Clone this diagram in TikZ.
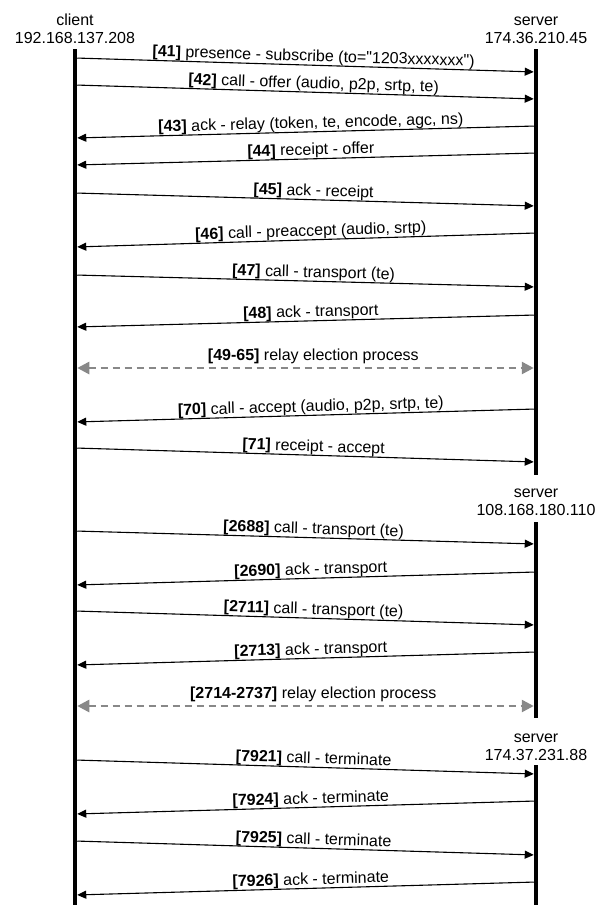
\documentclass[tikz,border=0pt]{standalone}
\usepackage{fontspec}
\setmainfont{Liberation Sans}[Ligatures=TeXOff]
\usepackage{xcolor}
\usetikzlibrary{arrows.meta}

\definecolor{electgray}{HTML}{888888}

\begin{document}
\begin{tikzpicture}[
    x=1pt, y=-1pt,
    font=\fontsize{16}{18}\selectfont,
    head/.style={align=center, inner sep=0pt},
    life/.style={line width=4.5pt},
    msg/.style={-{Triangle[length=9pt,width=8pt]}, line width=1.1pt, shorten >=2.25pt, shorten <=2.25pt},
    elect/.style={{Triangle[length=12pt,width=12pt]}-{Triangle[length=12pt,width=12pt]}, color=electgray, line width=2.6pt, dash pattern=on 7pt off 5pt, shorten >=2.25pt, shorten <=2.25pt},
    lbl/.style={pos=0.517, above, sloped, inner sep=0pt}
  ]
    \useasboundingbox (0,0) rectangle (605,905);

    % actors
    \node[head] (client) at (75,28.3) {client\\192.168.137.208};
    \node[head] (serverA) at (536,29.9) {server\\174.36.210.45};
    \node[head] (serverB) at (536,501.9) {server\\108.168.180.110};
    \node[head] (serverC) at (536,746.9) {server\\174.37.231.88};

    % lifelines
    \coordinate (cTop) at (75,49);
    \coordinate (cBot) at (75,905);
    \coordinate (sTopA) at (536,49);
    \coordinate (sBotA) at (536,475);
    \coordinate (sTopB) at (536,522);
    \coordinate (sBotB) at (536,718);
    \coordinate (sTopC) at (536,765);
    \coordinate (sBotC) at (536,905);
    \foreach \i/\j in {cTop/cBot,sTopA/sBotA,sTopB/sBotB,sTopC/sBotC}
      \draw[life] (\i) -- (\j);

    % client -> server
    \foreach \n/\ya/\yb/\txt in {41/58/72/{presence - subscribe (to="1203xxxxxxx")},
        42/85/99/{call - offer (audio, p2p, srtp, te)},
        45/193/206/{ack - receipt},
        47/275/287/{call - transport (te)},
        71/448/462/{receipt - accept},
        2688/531/544/{call - transport (te)},
        2711/611/625/{call - transport (te)},
        7921/760/774/{call - terminate},
        7925/841/855/{call - terminate}} {
      \coordinate (c\n) at (75,\ya);
      \coordinate (s\n) at (536,\yb);
      \draw[msg] (c\n) -- node[lbl] {\textbf{[\n]} \txt} (s\n);
    }

    % server -> client
    \foreach \n/\ya/\yb/\txt in {43/138/126/{ack - relay (token, te, encode, agc, ns)},
        44/165/153/{receipt - offer},
        46/247/233/{call - preaccept (audio, srtp)},
        48/327/315/{ack - transport},
        70/422/409/{call - accept (audio, p2p, srtp, te)},
        2690/585/572/{ack - transport},
        2713/665/652/{ack - transport},
        7924/814/801/{ack - terminate},
        7926/895/882/{ack - terminate}} {
      \coordinate (c\n) at (75,\ya);
      \coordinate (s\n) at (536,\yb);
      \draw[msg] (s\n) -- node[lbl, pos=0.488] {\textbf{[\n]} \txt} (c\n);
    }

    % relay election
    \foreach \n/\y in {49-65/368, 2714-2737/706} {
      \coordinate (c\n) at (75,\y);
      \coordinate (s\n) at (536,\y);
      \draw[elect] (c\n) -- node[lbl, inner sep=2.5pt, text=black] {\textbf{[\n]} relay election process} (s\n);
    }
  \end{tikzpicture}
\end{document}
